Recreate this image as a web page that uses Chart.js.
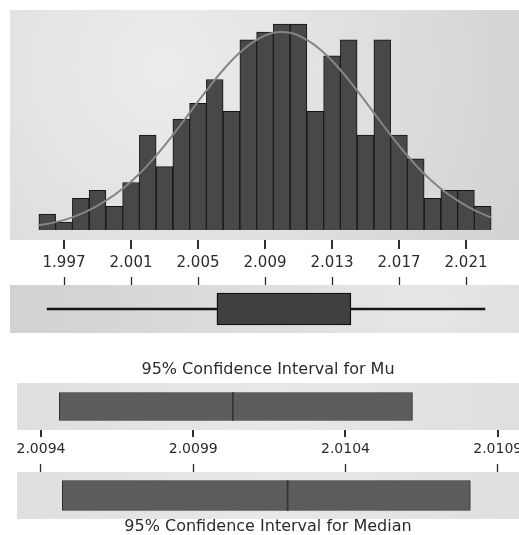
<!DOCTYPE html>
<html>
<head>
<meta charset="utf-8">
<script src="https://cdn.jsdelivr.net/npm/chart.js@4.4.1/dist/chart.umd.min.js"></script>
<style>
  body { margin: 0; background: #fff; width: 519px; height: 535px; overflow: hidden; position: relative; }
  canvas { position: absolute; }
  #histChart { left: 10px; top: 10px; }
  #boxChart { left: 10px; top: 277px; }
  #muChart { left: 17px; top: 358px; }
  #medChart { left: 17px; top: 456px; }
</style>
</head>
<body>
<canvas id="histChart" width="509" height="275"></canvas>
<canvas id="boxChart" width="509" height="56"></canvas>
<canvas id="muChart" width="502" height="98"></canvas>
<canvas id="medChart" width="502" height="79"></canvas>
<script>
// histogram bins (centres) and counts
const binCenters = [1.996, 1.997, 1.998, 1.999, 2.000, 2.001, 2.002, 2.003, 2.004,
  2.005, 2.006, 2.007, 2.008, 2.009, 2.010, 2.011, 2.012, 2.013,
  2.014, 2.015, 2.016, 2.017, 2.018, 2.019, 2.020, 2.021, 2.022];
const binCounts = [2, 1, 4, 5, 3, 6, 12, 8, 14, 16, 19, 15, 24, 25, 26, 26, 15, 22,
  24, 12, 24, 12, 9, 4, 5, 5, 3];

// fitted normal curve, read at the bin edges
const curveX = [1.9955, 1.9965, 1.9975, 1.9985, 1.9995, 2.0005, 2.0015, 2.0025, 2.0035,
  2.0045, 2.0055, 2.0065, 2.0075, 2.0085, 2.0095, 2.0105, 2.0115, 2.0125, 2.0135,
  2.0145, 2.0155, 2.0165, 2.0175, 2.0185, 2.0195, 2.0205, 2.0215, 2.0225];
const curveY = [0.6, 1.0, 1.6, 2.5, 3.7, 5.2, 7.1, 9.4, 12.0, 14.8, 17.6, 20.2, 22.4,
  24.0, 24.9, 24.9, 24.0, 22.4, 20.2, 17.6, 14.8, 12.0, 9.4, 7.1, 5.2, 3.7, 2.5, 1.6];

const histTicks = [1.997, 2.001, 2.005, 2.009, 2.013, 2.017, 2.021];

// boxplot
const boxWhisker = [1.99599, 2.02213];
const boxQuartiles = [2.00613, 2.01413];

// confidence intervals
const ciTicks = [2.0094, 2.0099, 2.0104, 2.0109];
const muInterval = [2.00946, 2.01062];
const muMean = 2.01003;
const medianInterval = [2.00947, 2.01081];
const medianValue = 2.01021;

Chart.defaults.font.family = "'DejaVu Sans', Verdana, sans-serif";
Chart.defaults.color = '#2b2b2b';

const HIST_RANGE = [1.993776, 2.024164];
const CI_RANGE = [2.0093212, 2.0109698];
const MARK_HALF = 0.0000017;
const TICK_COLOR = '#2a2a2a';

// grey backdrop behind each panel
function band(fx, fy, light, dark) {
  return {
    id: 'band',
    beforeDraw(chart) {
      const { ctx, chartArea: a } = chart;
      const cx = a.left + a.width * fx;
      const cy = a.top + a.height * fy;
      const g = ctx.createRadialGradient(cx, cy, 0, cx, cy, a.width * 0.75);
      g.addColorStop(0, light);
      g.addColorStop(1, dark);
      ctx.save();
      ctx.fillStyle = g;
      ctx.fillRect(a.left, a.top, a.width, a.height);
      ctx.restore();
    }
  };
}

// short tick marks hanging under a bottom axis
function tickMarks(len) {
  return {
    id: 'tickMarks',
    afterDraw(chart) {
      const s = chart.scales.x;
      const ctx = chart.ctx;
      ctx.save();
      ctx.strokeStyle = '#303030';
      ctx.lineWidth = 2;
      ctx.beginPath();
      s.ticks.forEach(t => {
        const px = Math.round(s.getPixelForValue(t.value));
        ctx.moveTo(px, s.top);
        ctx.lineTo(px, s.top + len);
      });
      ctx.stroke();
      ctx.restore();
    }
  };
}

function fixHeight(h) {
  return scale => {
    scale.height = h;
    scale.paddingLeft = 0;
    scale.paddingRight = 0;
  };
}

function setTicks(values) {
  return scale => { scale.ticks = values.map(v => ({ value: v })); };
}

const tickGrid = len => ({
  offset: false, drawOnChartArea: false, tickLength: len,
  tickColor: TICK_COLOR, tickWidth: 1.3
});

const common = {
  responsive: false,
  animation: false,
  events: [],
  plugins: { legend: { display: false }, tooltip: { enabled: false } }
};

new Chart(document.getElementById('histChart'), {
  type: 'bar',
  data: {
    datasets: [
      {
        type: 'line',
        data: curveX.map((x, i) => ({ x: x, y: curveY[i] })),
        borderColor: '#858585',
        borderWidth: 2,
        pointRadius: 0,
        tension: 0.4,
        order: 0
      },
      {
        type: 'bar',
        data: binCenters.map((x, i) => ({ x: x, y: binCounts[i] })),
        backgroundColor: '#484848',
        borderColor: '#141414',
        borderWidth: 1,
        barPercentage: 1,
        categoryPercentage: 1,
        order: 1
      }
    ]
  },
  options: {
    ...common,
    scales: {
      x: {
        type: 'linear',
        offset: false,
        min: HIST_RANGE[0], max: HIST_RANGE[1],
        afterBuildTicks: setTicks(histTicks),
        afterFit: fixHeight(45),
        border: { display: false },
        grid: { display: false, drawTicks: false },
        ticks: { padding: 14, font: { size: 15 }, maxRotation: 0, autoSkip: false,
          callback: v => v.toFixed(3) }
      },
      y: { display: false, min: -1.26, max: 27.78 }
    }
  },
  plugins: [band(0.3, 0.25, '#ededed', '#d3d3d3'), tickMarks(9)]
});

new Chart(document.getElementById('boxChart'), {
  type: 'bar',
  data: {
    labels: ['box'],
    datasets: [
      { data: [boxWhisker], barThickness: 2, backgroundColor: '#151515', grouped: false, order: 2 },
      { data: [boxQuartiles], barThickness: 32, backgroundColor: '#404040', borderColor: '#111',
        borderWidth: 1.5, borderSkipped: false, grouped: false, order: 1 }
    ]
  },
  options: {
    ...common,
    indexAxis: 'y',
    scales: {
      x: {
        type: 'linear', position: 'top', offset: false,
        min: HIST_RANGE[0], max: HIST_RANGE[1],
        afterBuildTicks: setTicks(histTicks),
        afterFit: fixHeight(8),
        border: { display: false },
        grid: tickGrid(8),
        ticks: { display: false }
      },
      y: { display: false }
    }
  },
  plugins: [band(0.8, 0.5, '#e6e6e6', '#d2d2d2')]
});

new Chart(document.getElementById('muChart'), {
  type: 'bar',
  data: {
    labels: ['mu'],
    datasets: [
      { data: [muInterval], barThickness: 28, backgroundColor: '#5c5c5c', borderColor: '#2e2e2e',
        borderWidth: 1, borderSkipped: false, grouped: false, order: 2 },
      { data: [[muMean - MARK_HALF, muMean + MARK_HALF]], barThickness: 28,
        backgroundColor: '#333', grouped: false, order: 1 }
    ]
  },
  options: {
    ...common,
    indexAxis: 'y',
    plugins: {
      ...common.plugins,
      title: { display: true, text: '95% Confidence Interval for Mu', position: 'top',
        font: { size: 16, weight: 'normal', lineHeight: 1 }, padding: { top: 4, bottom: 5 } }
    },
    scales: {
      x: {
        type: 'linear', position: 'bottom', offset: false,
        min: CI_RANGE[0], max: CI_RANGE[1],
        afterBuildTicks: setTicks(ciTicks),
        afterFit: fixHeight(26),
        border: { display: false },
        grid: { display: false, drawTicks: false },
        ticks: { padding: 11, font: { size: 14 }, maxRotation: 0, autoSkip: false,
          callback: v => v.toFixed(4) }
      },
      y: { display: false }
    }
  },
  plugins: [band(0.5, 0.5, '#e8e8e8', '#dadada'), tickMarks(7)]
});

new Chart(document.getElementById('medChart'), {
  type: 'bar',
  data: {
    labels: ['median'],
    datasets: [
      { data: [medianInterval], barThickness: 30, backgroundColor: '#5c5c5c', borderColor: '#2e2e2e',
        borderWidth: 1, borderSkipped: false, grouped: false, order: 2 },
      { data: [[medianValue - MARK_HALF, medianValue + MARK_HALF]], barThickness: 30,
        backgroundColor: '#333', grouped: false, order: 1 }
    ]
  },
  options: {
    ...common,
    indexAxis: 'y',
    plugins: {
      ...common.plugins,
      title: { display: true, text: '95% Confidence Interval for Median', position: 'bottom',
        font: { size: 16, weight: 'normal', lineHeight: 1 }, padding: { top: 0, bottom: 0 } }
    },
    scales: {
      x: {
        type: 'linear', position: 'top', offset: false,
        min: CI_RANGE[0], max: CI_RANGE[1],
        afterBuildTicks: setTicks(ciTicks),
        afterFit: fixHeight(16),
        border: { display: false },
        grid: tickGrid(8),
        ticks: { display: false }
      },
      y: { display: false }
    }
  },
  plugins: [band(0.5, 0.5, '#e8e8e8', '#dadada')]
});
</script>
</body>
</html>
